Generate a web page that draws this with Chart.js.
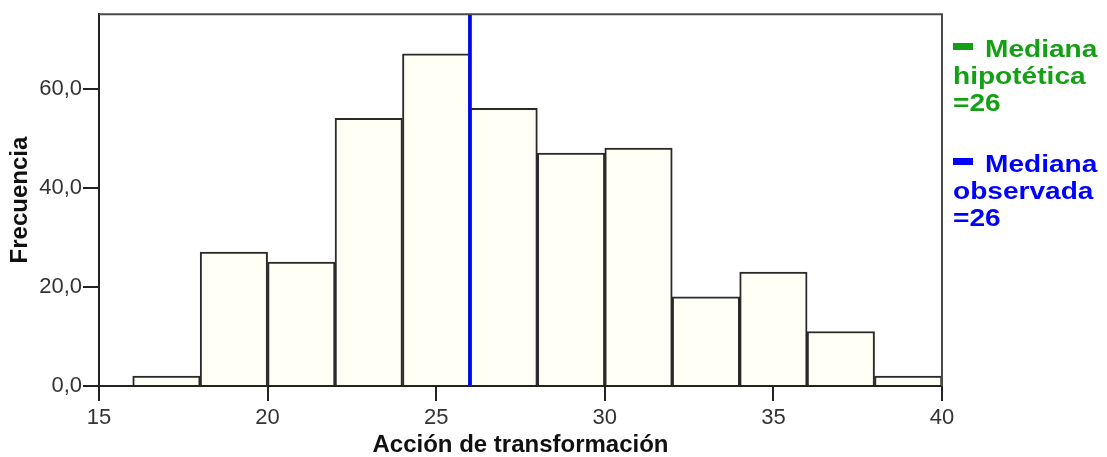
<!DOCTYPE html>
<html>
<head>
<meta charset="utf-8">
<script src="https://cdn.jsdelivr.net/npm/chart.js@4"></script>
<style>
  body { margin: 0; background: #fff; }
  #wrap { position: relative; width: 1107px; height: 457px; }
  .legend-item { position: absolute; left: 953px; font-family: "Liberation Sans", Arial, sans-serif; font-weight: bold; font-size: 24px; line-height: 27px; }
  .legend-item .dash { position: absolute; left: 0; top: 8px; width: 20px; height: 7px; }
  .legend-item .ln { display: block; height: 27px; white-space: nowrap; }
  .legend-item .ln span { display: inline-block; transform: scaleX(1.17); transform-origin: left center; }
  .legend-item .first { padding-left: 32px; }
</style>
</head>
<body>
<div id="wrap">
  <canvas id="hist" width="1107" height="457"></canvas>
  <div class="legend-item" id="leg-hypo" style="top:35px;color:#14a014">
    <div class="dash" style="background:#14a014"></div>
    <div class="ln first"><span>Mediana</span></div>
    <div class="ln"><span>hipotética</span></div>
    <div class="ln"><span id="hypo-val">=26</span></div>
  </div>
  <div class="legend-item" id="leg-obs" style="top:150px;color:#0000ff">
    <div class="dash" style="background:#0000ff"></div>
    <div class="ln first"><span>Mediana</span></div>
    <div class="ln"><span>observada</span></div>
    <div class="ln"><span id="obs-val">=26</span></div>
  </div>
</div>
<script>
// histogram bins (width 2) and frequencies
const binCenters = [17, 19, 21, 23, 25, 27, 29, 31, 33, 35, 37, 39];
const counts = [2, 27, 25, 54, 67, 56, 47, 48, 18, 23, 11, 2];

const xTicks = [15, 20, 25, 30, 35, 40];
const yTicks = [0, 20, 40, 60];
const yMax = 75;

const medianHypo = 26;
const medianObs = 26;

const FONT = '"Liberation Sans", Arial, sans-serif';

document.getElementById('hypo-val').textContent = '=' + medianHypo;
document.getElementById('obs-val').textContent = '=' + medianObs;

const histData = binCenters.map((c, i) => ({ x: c, y: counts[i] }));

// top + right border of the plot box
const frame = {
  id: 'frame',
  afterDraw(chart) {
    const { ctx, chartArea: a } = chart;
    ctx.save();
    ctx.strokeStyle = '#4a4a4a';
    ctx.lineWidth = 2;
    ctx.beginPath();
    ctx.moveTo(a.left, a.top);
    ctx.lineTo(a.right, a.top);
    ctx.lineTo(a.right, a.bottom);
    ctx.stroke();
    ctx.restore();
  }
};

new Chart(document.getElementById('hist'), {
  type: 'bar',
  data: {
    datasets: [
      {
        type: 'line',
        data: [{ x: medianObs, y: 0 }, { x: medianObs, y: yMax }],
        borderColor: '#0000ff',
        borderWidth: 3.5,
        pointRadius: 0,
        order: 0
      },
      {
        type: 'line',
        data: [{ x: medianHypo, y: 0 }, { x: medianHypo, y: yMax }],
        borderColor: '#14a014',
        borderWidth: 3.5,
        pointRadius: 0,
        order: 1
      },
      {
        data: histData,
        backgroundColor: '#fffff5',
        borderColor: '#2a2a2a',
        borderWidth: 2,
        barPercentage: 1,
        categoryPercentage: 1,
        order: 2
      }
    ]
  },
  options: {
    responsive: false,
    animation: false,
    layout: { padding: { left: 0, top: 14, right: 165, bottom: 0 } },
    plugins: { legend: { display: false }, tooltip: { enabled: false } },
    scales: {
      x: {
        type: 'linear',
        min: 15,
        max: 40,
        offset: false,
        afterBuildTicks: axis => { axis.ticks = xTicks.map(v => ({ value: v })); },
        afterFit: axis => { axis.height = 71; },
        ticks: { color: '#333', padding: 4, font: { family: FONT, size: 22 } },
        grid: { drawOnChartArea: false, offset: false, tickLength: 15, tickColor: '#222', lineWidth: 2 },
        border: { display: true, color: '#222', width: 2 },
        title: {
          display: true,
          text: 'Acción de transformación',
          color: '#111',
          padding: { top: 0, bottom: 0 },
          font: { family: FONT, size: 24, weight: 'bold', lineHeight: 1 }
        }
      },
      y: {
        min: 0,
        max: yMax,
        afterBuildTicks: axis => { axis.ticks = yTicks.map(v => ({ value: v })); },
        afterFit: axis => { axis.width = 99; },
        ticks: {
          color: '#333',
          padding: 1,
          font: { family: FONT, size: 22 },
          callback: v => v.toFixed(1).replace('.', ',')
        },
        grid: { drawOnChartArea: false, tickLength: 16, tickColor: '#222', lineWidth: 2 },
        border: { display: true, color: '#222', width: 2 },
        title: {
          display: true,
          text: 'Frecuencia',
          color: '#111',
          padding: { top: 6, bottom: 0 },
          font: { family: FONT, size: 24, weight: 'bold' }
        }
      }
    }
  },
  plugins: [frame]
});
</script>
</body>
</html>
